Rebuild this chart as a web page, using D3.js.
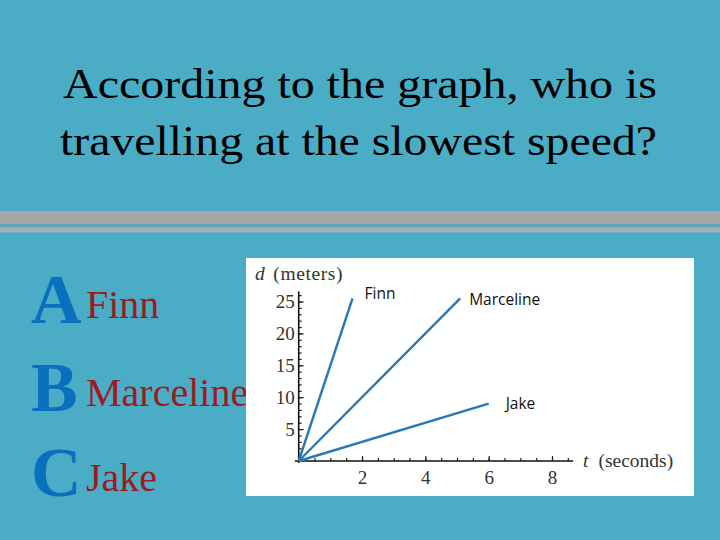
<!DOCTYPE html>
<html>
<head>
<meta charset="utf-8">
<script src="https://cdn.jsdelivr.net/npm/d3@7"></script>
<style>
  html, body { margin: 0; padding: 0; background: #4bacc6; }
  svg { display: block; }
</style>
</head>
<body>
<div class="svg-div"></div>
<script>
// question and answers
var titleLines = ["According to the graph, who is", "travelling at the slowest speed?"];
var optionLetters = ["A", "B", "C"];
var optionNames = ["Finn", "Marceline", "Jake"];

// series: each line runs from (0,0) to its end point
var seriesNames = ["Finn", "Marceline", "Jake"];
var seriesTimes = [[0, 1.7], [0, 5.1], [0, 6]];
var seriesDistances = [[0, 25.5], [0, 25.5], [0, 9]];

// tick labels
var xTicks = [2, 4, 6, 8];
var yTicks = [5, 10, 15, 20, 25];

// label nudges (px) from the end of each line
var labelDx = [12, 9, 17];
var labelDy = [1, 7, 5];

var w = 720;
var h = 540;

var svg = d3.select(".svg-div")
  .append("svg")
  .attr("width", w)
  .attr("height", h);

svg.append("rect")
  .attr("width", w).attr("height", h)
  .attr("fill", "#4bacc6");

// title (stretched to the widths in the slide)
var titleWidths = [594, 597];
svg.selectAll("text.title")
  .data(titleLines)
  .enter()
  .append("text")
  .attr("class", "title")
  .attr("x", function(d, i) { return i == 0 ? 63 : 60; })
  .attr("y", function(d, i) { return 98 + i * 57; })
  .attr("textLength", function(d, i) { return titleWidths[i]; })
  .attr("lengthAdjust", "spacingAndGlyphs")
  .attr("font-family", "Liberation Serif, Times New Roman, serif")
  .attr("font-size", 43)
  .attr("fill", "#000")
  .text(function(d) { return d; });

// grey divider bands
svg.append("rect").attr("x", 0).attr("y", 211).attr("width", w).attr("height", 13).attr("fill", "#a6a6a6");
svg.append("rect").attr("x", 0).attr("y", 224).attr("width", w).attr("height", 3.5).attr("fill", "#5fa4b4");
svg.append("rect").attr("x", 0).attr("y", 227.5).attr("width", w).attr("height", 5).attr("fill", "#9fb1b6");

// answer options
var optBase = [323, 411, 496];
svg.selectAll("text.letter")
  .data(optionLetters)
  .enter()
  .append("text")
  .attr("class", "letter")
  .attr("x", 31)
  .attr("y", function(d, i) { return optBase[i]; })
  .attr("font-family", "Liberation Serif, Times New Roman, serif")
  .attr("font-weight", "bold")
  .attr("font-size", 70)
  .attr("fill", "#0a70bd")
  .text(function(d) { return d; });

svg.selectAll("text.option")
  .data(optionNames)
  .enter()
  .append("text")
  .attr("class", "option")
  .attr("x", 86)
  .attr("y", function(d, i) { return optBase[i] - 5; })
  .attr("font-family", "Liberation Serif, Times New Roman, serif")
  .attr("font-size", 40)
  .attr("fill", "#9b1c1f")
  .text(function(d) { return d; });

// chart panel
svg.append("rect")
  .attr("x", 246).attr("y", 258)
  .attr("width", 448).attr("height", 238)
  .attr("fill", "#fff");

var x = d3.scaleLinear().domain([0, 8]).range([298.7, 552]);
var y = d3.scaleLinear().domain([0, 25]).range([461, 301.5]);

var g = svg.append("g");

// minor ticks
g.append("g")
  .attr("transform", "translate(0," + y(0) + ")")
  .call(d3.axisBottom(x).tickValues(d3.range(0.5, 8.6, 0.5)).tickSize(-3).tickFormat(""))
  .call(function(s) { s.select(".domain").remove(); });
g.append("g")
  .attr("transform", "translate(" + x(0) + ",0)")
  .call(d3.axisLeft(y).tickValues(d3.range(1, 26.5, 1)).tickSize(-3).tickFormat(""))
  .call(function(s) { s.select(".domain").remove(); });

// major ticks with labels
var xAxis = g.append("g")
  .attr("transform", "translate(0," + y(0) + ")")
  .call(d3.axisBottom(x).tickValues(xTicks).tickSize(-5).tickPadding(10).tickFormat(d3.format("d")));
xAxis.select(".domain").remove();

var yAxis = g.append("g")
  .attr("transform", "translate(" + x(0) + ",0)")
  .call(d3.axisLeft(y).tickValues(yTicks).tickSize(-5).tickPadding(4).tickFormat(d3.format("d")));
yAxis.select(".domain").remove();

g.selectAll(".tick line").attr("stroke", "#222").attr("stroke-width", 1.2);
g.selectAll(".tick text")
  .attr("font-family", "Liberation Serif, Times New Roman, serif")
  .attr("font-size", 19)
  .attr("fill", "#333");

// axis lines
g.append("line")
  .attr("x1", x(-0.12)).attr("x2", x(8.67))
  .attr("y1", y(0)).attr("y2", y(0))
  .attr("stroke", "#111").attr("stroke-width", 1.6);
g.append("line")
  .attr("x1", x(0)).attr("x2", x(0))
  .attr("y1", y(-0.3)).attr("y2", y(26.6))
  .attr("stroke", "#111").attr("stroke-width", 1.6);

// axis titles
var axT = svg.append("text")
  .attr("x", 255).attr("y", 280)
  .attr("font-family", "Liberation Serif, Times New Roman, serif")
  .attr("font-size", 19.5)
  .attr("letter-spacing", 0.6)
  .attr("fill", "#333");
axT.append("tspan").attr("font-style", "italic").text("d");
axT.append("tspan").attr("dx", 8).text("(meters)");

var axX = svg.append("text")
  .attr("x", 583).attr("y", 467)
  .attr("font-family", "Liberation Serif, Times New Roman, serif")
  .attr("font-size", 19.5)
  .attr("fill", "#333");
axX.append("tspan").attr("font-style", "italic").text("t");
axX.append("tspan").attr("dx", 10).text("(seconds)");

// lines
var line = d3.line()
  .x(function(d) { return x(d[0]); })
  .y(function(d) { return y(d[1]); });

seriesNames.forEach(function(name, i) {
  var pts = seriesTimes[i].map(function(t, j) { return [t, seriesDistances[i][j]]; });
  g.append("path")
    .datum(pts)
    .attr("d", line)
    .attr("fill", "none")
    .attr("stroke", "#2a78b5")
    .attr("stroke-width", 2.4);

  var last = pts[pts.length - 1];
  svg.append("text")
    .attr("x", x(last[0]) + labelDx[i])
    .attr("y", y(last[1]) + labelDy[i])
    .attr("font-family", "Open Sans, sans-serif")
    .attr("font-size", 15.5)
    .attr("fill", "#111")
    .text(name);
});
</script>
</body>
</html>
